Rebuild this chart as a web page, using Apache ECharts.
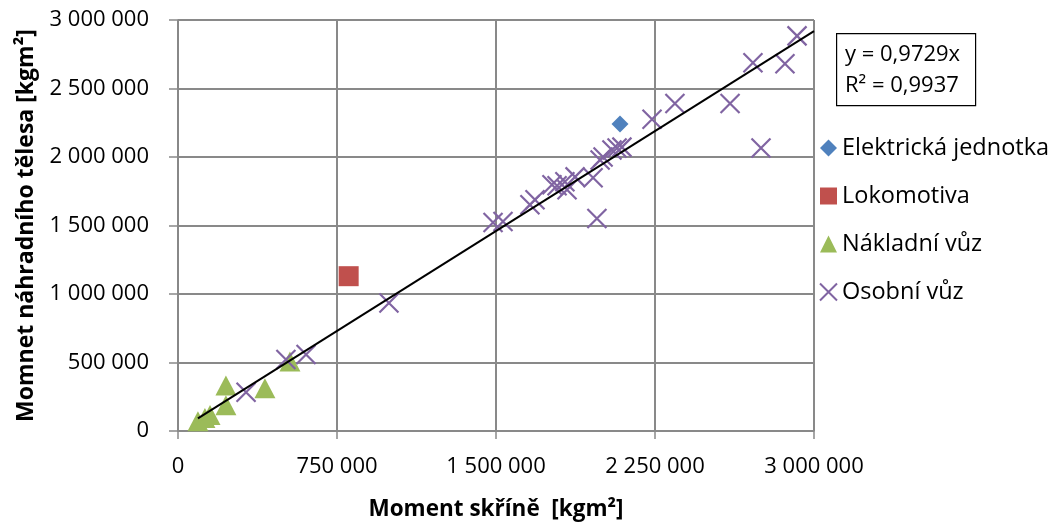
<!DOCTYPE html>
<html>
<head>
<meta charset="utf-8">
<script src="https://cdn.jsdelivr.net/npm/echarts@6/dist/echarts.min.js"></script>
<style>html,body{margin:0;padding:0;background:#fff;}#c{width:1056px;height:526px;}</style>
</head>
<body>
<div id="c"></div>
<script>
// Data: [Moment skříně, Momnet náhradního tělesa]
const elektrickaJednotka = [[2085000, 2240000]];
const lokomotiva = [[805000, 1130000]];
const nakladniVuz = [
  [94000, 72000], [127000, 94000], [151000, 116000], [226000, 188000],
  [226000, 333000], [410000, 312000], [528000, 507000]
];
const osobniVuz = [
  [321000, 283000], [509000, 522000], [604000, 558000], [995000, 935000],
  [1486000, 1522000], [1533000, 1529000], [1660000, 1652000], [1684000, 1688000],
  [1764000, 1797000], [1788000, 1790000], [1825000, 1819000], [1835000, 1761000],
  [1873000, 1855000], [1958000, 1848000], [1991000, 1978000], [2005000, 2000000],
  [2047000, 2051000], [2071000, 2065000], [2094000, 2072000], [1976000, 1551000],
  [2236000, 2275000], [2344000, 2391000], [2604000, 2391000], [2712000, 2688000],
  [2863000, 2681000], [2920000, 2884000], [2750000, 2065000]
];
// Linear trendline y = 0,9729x (endpoints)
const trendLine = [[94000, 91453], [3000000, 2918700]];
const xTicks = [0, 750000, 1500000, 2250000, 3000000];
const yTicks = [0, 500000, 1000000, 1500000, 2000000, 2500000, 3000000];
const seriesNames = ['Elektrická jednotka', 'Lokomotiva', 'Nákladní vůz', 'Osobní vůz'];
const equationLines = ['y = 0,9729x', 'R² = 0,9937'];

const fmt = v => String(v).replace(/\B(?=(\d{3})+(?!\d))/g, ' ');
const FONT = '"Open Sans", "Noto Sans", sans-serif';
const gridColor = '#898989';
const crossPath = 'path://M0,0L10,10M10,0L0,10';

const chart = echarts.init(document.getElementById('c'), null, {renderer: 'canvas'});
chart.setOption({
  animation: false,
  backgroundColor: '#fff',
  textStyle: {fontFamily: FONT},
  grid: {left: 178, right: 242, top: 20, bottom: 93, containLabel: false},
  xAxis: {
    type: 'value', min: xTicks[0], max: xTicks[xTicks.length - 1], interval: 750000,
    name: 'Moment skříně  [kgm²]', nameLocation: 'middle', nameGap: 67,
    nameTextStyle: {fontFamily: FONT, fontWeight: 'bold', fontSize: 22.5, color: '#000'},
    axisLine: {show: true, lineStyle: {color: gridColor, width: 1.5}},
    axisTick: {show: true, length: 8, inside: false, lineStyle: {color: gridColor, width: 1.5}},
    axisLabel: {formatter: fmt, fontSize: 22, color: '#000', margin: 25, fontFamily: FONT},
    splitLine: {show: true, lineStyle: {color: gridColor, width: 2}}
  },
  yAxis: {
    type: 'value', min: yTicks[0], max: yTicks[yTicks.length - 1], interval: 500000,
    name: 'Momnet náhradního tělesa [kgm²]', nameLocation: 'middle', nameGap: 140,
    nameTextStyle: {fontFamily: FONT, fontWeight: 'bold', fontSize: 23, color: '#000'},
    axisLine: {show: true, lineStyle: {color: gridColor, width: 1.5}},
    axisTick: {show: true, length: 9, inside: false, lineStyle: {color: gridColor, width: 1.5}},
    axisLabel: {formatter: fmt, fontSize: 22, color: '#000', margin: 29, fontFamily: FONT},
    splitLine: {show: true, lineStyle: {color: gridColor, width: 2}}
  },
  legend: {
    orient: 'vertical', left: 814, top: 131, itemGap: 24, itemWidth: 17, itemHeight: 17,
    data: seriesNames,
    textStyle: {fontFamily: FONT, fontSize: 23.5, color: '#000'}
  },
  graphic: [
    {type: 'rect', left: 836, top: 33, shape: {width: 139, height: 72},
     style: {fill: '#fff', stroke: '#000', lineWidth: 1.2}, z: 10},
    {type: 'text', left: 845, top: 44, z: 11,
     style: {text: equationLines[0], font: '22px ' + FONT, fill: '#000'}},
    {type: 'text', left: 845, top: 75, z: 11,
     style: {text: equationLines[1], font: '22px ' + FONT, fill: '#000'}}
  ],
  series: [
    {name: seriesNames[0], type: 'scatter', data: elektrickaJednotka, symbol: 'diamond', symbolSize: 17,
     itemStyle: {color: '#4F81BD', opacity: 1}, z: 5},
    {name: seriesNames[1], type: 'scatter', data: lokomotiva, symbol: 'rect', symbolSize: 20,
     itemStyle: {color: '#C0504D', opacity: 1}, z: 5},
    {name: seriesNames[2], type: 'scatter', data: nakladniVuz, symbol: 'triangle', symbolSize: [21, 20],
     itemStyle: {color: '#9BBB59', opacity: 1}, z: 5},
    {name: seriesNames[3], type: 'scatter', data: osobniVuz, symbol: crossPath, symbolSize: 19,
     itemStyle: {color: '#8064A2', borderColor: '#8064A2', borderWidth: 2.2, opacity: 1}, z: 5},
    {name: 'trend', type: 'line', data: trendLine, symbol: 'none', silent: true,
     lineStyle: {color: '#000', width: 2}, z: 6}
  ]
});
</script>
</body>
</html>
